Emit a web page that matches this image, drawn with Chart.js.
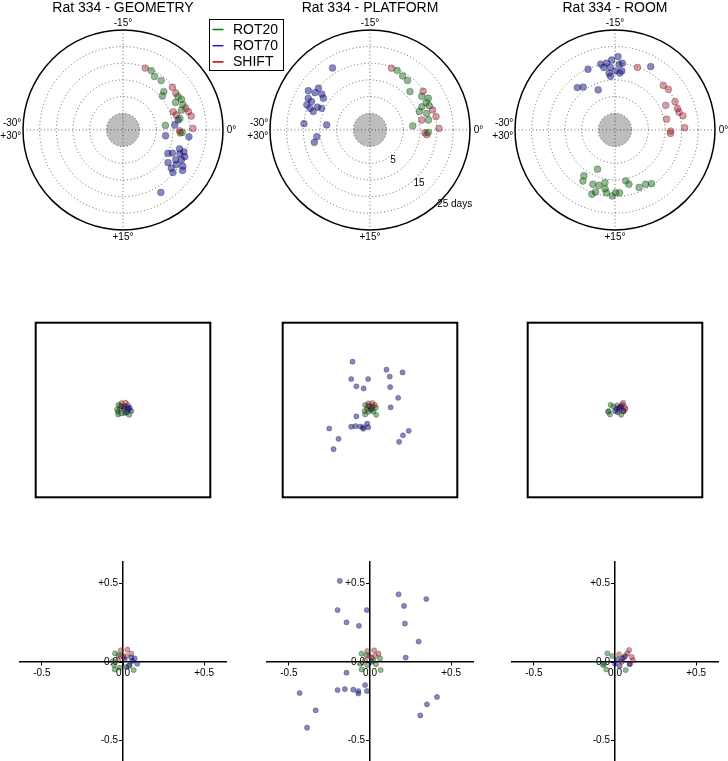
<!DOCTYPE html>
<html>
<head>
<meta charset="utf-8">
<script src="https://cdn.jsdelivr.net/npm/chart.js@4.4.1/dist/chart.umd.min.js"></script>
<style>
  body{margin:0;background:#fff;width:728px;height:761px;overflow:hidden;position:relative;}
  canvas{position:absolute;}
</style>
</head>
<body>
<script>
const series = ["ROT20", "ROT70", "SHIFT"];
const panels = ["GEOMETRY", "PLATFORM", "ROOM"];

// polar rows: [angle (deg), day]
const geomRot20 = [[-10.75,14.7],[-9.9,13.6],[-8.7,13.7],[-7.2,11.8],[-6.8,10.6],[-5.2,14.3],[-4.6,14.8],[-4.6,12.8],[-3.8,14.5],[-3.1,13.5],[-1.9,12.4],[0.4,12.8],[-1.0,7.8]];
const geomRot70 = [[-0.9,10.6],[-1.7,11.8],[1.0,14.9],[1.3,7.9],[3.1,12.9],[3.3,14.4],[3.8,13.5],[3.9,15.2],[4.2,11.4],[4.6,10.2],[4.5,14.7],[4.95,13.2],[6.0,11.7],[5.5,14.1],[5.2,16.0],[6.4,13.5],[6.75,14.7],[5.7,16.6],[9.8,16.9]];
const geomShift = [[-11.7,14.7],[-6.8,14.6],[-5.8,14.3],[-3.2,14.9],[-2.6,15.4],[-1.9,15.9],[-3.3,11.0],[-2.6,11.6],[-0.2,16.0],[0.15,12.0],[0.5,12.2]];

const platRot20 = [[-10.9,14.6],[-9.8,13.9],[-8.8,13.6],[-7.3,11.6],[-5.5,13.5],[-4.75,14.9],[-4.3,13.7],[-4.0,12.0],[-3.4,10.8],[-2.7,12.7],[-1.6,12.8],[-0.9,7.9],[0.4,12.5],[-3.7,14.2]];
const platRot70 = [[-20.2,16.7],[-24.6,16.9],[-24.3,14.9],[-23.5,14.9],[-23.9,13.0],[-24.3,11.9],[-25.5,15.8],[-25.7,14.5],[-26.4,15.4],[-26.7,14.1],[-27.0,12.9],[-26.0,10.9],[-26.1,12.2],[-29.1,14.9],[-28.9,8.1],[28.8,11.1],[27.9,12.1]];
const platShift = [[-11.8,14.6],[-6.0,14.7],[-2.95,14.7],[-1.9,15.2],[-1.8,10.8],[-0.2,15.7],[0.5,11.5],[0.8,12.1]];

const roomRot20 = [[19.0,7.9],[20.7,11.6],[20.35,13.1],[18.7,12.6],[17.7,12.3],[16.8,11.1],[16.6,12.9],[18.3,15.5],[17.9,14.5],[16.3,14.0],[15.4,14.8],[14.9,13.8],[14.3,13.9],[13.0,10.6],[12.6,11.8],[11.2,13.7],[10.1,13.7],[9.3,14.5]];
const roomRot70 = [[-14.6,17.0],[-15.45,16.0],[-16.2,15.2],[-17.05,15.2],[-16.7,14.0],[-15.7,13.8],[-14.4,14.7],[-13.95,15.1],[-13.9,12.8],[-14.9,12.7],[-16.0,12.1],[-15.8,11.1],[-14.2,12.1],[-19.0,14.9],[-10.1,16.8],[-21.95,12.0],[-21.1,11.0],[-18.8,8.0]];
const roomShift = [[-11.7,14.9],[-7.1,14.7],[-6.2,15.1],[-4.2,14.9],[-4.3,11.9],[-3.15,14.8],[-2.6,14.9],[-1.95,15.8],[-1.95,10.8],[-0.3,15.9],[0.2,11.7],[0.6,11.7]];

// offsets (middle + bottom rows): [x, y]
const geomOffRot20 = [[-0.049,0.055],[-0.027,0.044],[-0.062,0.006],[-0.055,-0.019],[-0.051,-0.047],[0.066,-0.051],[0.037,-0.025],[-0.02,-0.036]];
const geomOffRot70 = [[0.072,0.023],[0.058,0.006],[0.088,-0.011],[0.041,-0.019],[0.02,-0.032],[0.051,0.028],[0.01,0.017]];
const geomOffShift = [[-0.014,0.074],[0.027,0.078],[0.051,0.053],[-0.031,0.011],[0.004,0.032],[0.02,0.038],[-0.016,0.038]];

const platOffRot20 = [[-0.052,0.053],[-0.021,0.044],[-0.058,-0.011],[-0.052,-0.047],[0.066,-0.051],[0.062,0.023],[0.037,-0.015],[0.021,0.011],[-0.017,-0.019]];
const platOffRot70 = [[-0.186,0.515],[0.176,0.43],[0.347,0.40],[-0.20,0.33],[-0.02,0.33],[0.21,0.356],[-0.145,0.252],[-0.068,0.23],[0.215,0.244],[0.30,0.13],[0.22,0.028],[-0.145,-0.068],[-0.03,-0.146],[-0.20,-0.178],[-0.155,-0.172],[-0.103,-0.176],[-0.072,-0.184],[-0.072,-0.20],[-0.019,-0.184],[-0.434,-0.197],[-0.335,-0.307],[-0.388,-0.417],[0.31,-0.339],[0.351,-0.269],[0.413,-0.222],[0.01,0.002]];
const platOffShift = [[-0.017,0.07],[0.025,0.074],[0.052,0.053],[-0.031,0.011],[0.01,0.028],[0.031,0.038],[-0.006,0.038]];

const roomOffRot20 = [[-0.047,0.055],[-0.017,0.038],[-0.068,-0.011],[-0.054,-0.047],[0.066,-0.051],[-0.074,-0.019]];
const roomOffRot70 = [[0.014,0.017],[0.045,0.023],[0.091,-0.011],[0.029,-0.025],[0,-0.011],[0.062,0.038]];
const roomOffShift = [[0.087,0.076],[0.076,0.055],[0.103,0.032],[0.111,0.011],[0.056,0.028],[0.025,0.049],[0.091,-0.015],[0.041,0.002]];

const ringDays = [0, 5, 10, 15, 20];
const ringLabels = ["5", "15", "25 days"];
const angleLabels = ["-15°", "+15°", "0°", "-30°", "+30°"];
const offTicks = [-0.5, 0, 0.5];

const polarSets = [[geomRot20, geomRot70, geomShift], [platRot20, platRot70, platShift], [roomRot20, roomRot70, roomShift]];
const offSets = [[geomOffRot20, geomOffRot70, geomOffShift], [platOffRot20, platOffRot70, platOffShift], [roomOffRot20, roomOffRot70, roomOffShift]];

const FONT = '"Liberation Sans", Arial, sans-serif';
const fills = {ROT20:"rgba(20,110,20,0.47)", ROT70:"rgba(25,25,150,0.52)", SHIFT:"rgba(180,30,45,0.45)"};
const lines = {ROT20:"rgb(0,128,0)", ROT70:"rgb(30,30,190)", SHIFT:"rgb(191,0,0)"};
const colX = [123.3, 369.7, 615.3];

const makeCanvas = (left, top, w, h)=>{
  const c = document.createElement("canvas");
  c.width = w; c.height = h;
  c.style.left = left + "px"; c.style.top = top + "px";
  c.style.width = w + "px"; c.style.height = h + "px";
  document.body.appendChild(c);
  return c;
};

const toXY = (pts)=> pts.map(p=>{
  const a = -p[0]*6*Math.PI/180;
  const r = p[1] + 5;
  return {x: r*Math.cos(a), y: r*Math.sin(a)};
});
const toPts = (pts)=> pts.map(p=>({x:p[0], y:p[1]}));

//polar grid, disk and labels
const polarDecor = {
  id:"polarDecor",
  beforeDatasetsDraw(chart, args, opts){
    const ctx = chart.ctx;
    const xs = chart.scales.x, ys = chart.scales.y;
    const cx = xs.getPixelForValue(0), cy = ys.getPixelForValue(0);
    const u = xs.getPixelForValue(1) - cx;
    ctx.save();
    ctx.fillStyle = "#bdbdbd";
    ctx.beginPath(); ctx.arc(cx, cy, 5*u, 0, Math.PI*2); ctx.fill();
    ctx.setLineDash([1, 2.5]); ctx.lineWidth = 0.8; ctx.strokeStyle = "rgba(0,0,0,0.75)";
    ringDays.forEach(d=>{
      ctx.beginPath(); ctx.arc(cx, cy, (d+5)*u, 0, Math.PI*2); ctx.stroke();
    });
    ctx.beginPath();
    ctx.moveTo(cx-30*u, cy); ctx.lineTo(cx+30*u, cy);
    ctx.moveTo(cx, cy-30*u); ctx.lineTo(cx, cy+30*u);
    ctx.stroke();
    ctx.setLineDash([]); ctx.lineWidth = 1.5; ctx.strokeStyle = "#000";
    ctx.beginPath(); ctx.arc(cx, cy, 30*u, 0, Math.PI*2); ctx.stroke();

    ctx.font = "10px " + FONT; ctx.fillStyle = "#000"; ctx.textBaseline = "middle";
    ctx.textAlign = "center";
    ctx.fillText(angleLabels[0], cx, cy-32*u);
    ctx.fillText(angleLabels[1], cx, cy+32.1*u);
    ctx.textAlign = "left";
    ctx.fillText(angleLabels[2], cx+31.1*u, cy);
    ctx.textAlign = "right";
    ctx.fillText(angleLabels[3], cx-30.5*u, cy-2*u);
    ctx.fillText(angleLabels[4], cx-30.5*u, cy+2*u);
    if(opts.ringText){
      const pos = [[6.9,9.2],[14.7,16],[25.4,22.2]];
      ctx.textAlign = "center";
      ringLabels.forEach((t,i)=> ctx.fillText(t, cx+pos[i][0]*u, cy+pos[i][1]*u));
    }
    ctx.restore();
  }
};

const boxLegend = {
  id:"boxLegend",
  afterDraw(chart, args, opts){
    if(!opts.show) return;
    const ctx = chart.ctx;
    ctx.save();
    ctx.fillStyle = "#fff"; ctx.fillRect(209.5, 19.5, 74, 51);
    ctx.strokeStyle = "#000"; ctx.lineWidth = 1; ctx.strokeRect(209.5, 19.5, 74, 51);
    ctx.font = "14px " + FONT; ctx.textBaseline = "middle"; ctx.textAlign = "left";
    chart.data.datasets.forEach((ds, i)=>{
      const y = 29.5 + i*16.2;
      ctx.strokeStyle = lines[ds.label]; ctx.lineWidth = 1.5;
      ctx.beginPath(); ctx.moveTo(212.5, y); ctx.lineTo(223.5, y); ctx.stroke();
      ctx.fillStyle = "#000";
      ctx.fillText(ds.label, 233, y+0.5);
    });
    ctx.restore();
  }
};

const boxFrame = {
  id:"boxFrame",
  afterDraw(chart){
    const {ctx, chartArea} = chart;
    ctx.save();
    ctx.strokeStyle = "#000"; ctx.lineWidth = 2;
    ctx.strokeRect(chartArea.left, chartArea.top, chartArea.right-chartArea.left, chartArea.bottom-chartArea.top);
    ctx.restore();
  }
};

const fmt = (v)=> v > 0 ? "+" + v.toFixed(1) : v.toFixed(1);

// y tick labels sit left of the centred y axis
const yLabels = {
  id:"yLabels",
  beforeDatasetsDraw(chart){
    const ctx = chart.ctx;
    const xs = chart.scales.x, ys = chart.scales.y;
    const x0 = xs.getPixelForValue(0);
    ctx.save();
    ctx.font = "10px " + FONT; ctx.fillStyle = "#000";
    ctx.textAlign = "right"; ctx.textBaseline = "middle";
    ys.ticks.forEach(t=> ctx.fillText(fmt(t.value), x0 - 5, ys.getPixelForValue(t.value)));
    ctx.restore();
  }
};

const makeSets = (sets, conv, radius)=> series.map((s, i)=>({
  label: s,
  data: conv(sets[i]),
  backgroundColor: fills[s],
  borderColor: "rgba(0,0,0,0.35)",
  borderWidth: 0.7,
  pointRadius: radius
}));

//top row: polar plots
panels.forEach((name, k)=>{
  const left = Math.round(colX[k] - 123);
  const w = k == 0 ? 290 : 246;
  const cnv = makeCanvas(left, 0, w, 250);
  new Chart(cnv, {
    type: "scatter",
    data: {datasets: makeSets(polarSets[k], toXY, 3.4)},
    options: {
      responsive: false, animation: false,
      layout: {padding: {left: 23, right: w - 223, top: 0, bottom: 20}},
      scales: {
        x: {display: false, min: -30, max: 30},
        y: {display: false, min: -30, max: 30}
      },
      plugins: {
        legend: {display: false}, tooltip: {enabled: false},
        title: {display: true, text: "Rat 334 - " + name, color: "#000",
          font: {family: FONT, size: 14, weight: "normal"}, padding: {top: 0, bottom: 13}},
        polarDecor: {ringText: k == 1},
        boxLegend: {show: k == 0}
      }
    },
    plugins: [polarDecor, boxLegend]
  });
});

//middle row: boxes
panels.forEach((name, k)=>{
  const cnv = makeCanvas(Math.round(colX[k] - 92), 318, 184, 184);
  new Chart(cnv, {
    type: "scatter",
    data: {datasets: makeSets(offSets[k], toPts, 2.6)},
    options: {
      responsive: false, animation: false,
      layout: {padding: 4},
      scales: {
        x: {display: false, min: -0.93, max: 0.93},
        y: {display: false, min: -0.93, max: 0.93}
      },
      plugins: {legend: {display: false}, tooltip: {enabled: false}}
    },
    plugins: [boxFrame]
  });
});

//bottom row: centred axes
const axisOpts = (pos, showLabels)=>({
  type: "linear", min: -0.635, max: 0.635, position: pos,
  border: {display: true, color: "#000", width: 1.5},
  grid: {drawOnChartArea: false, drawTicks: true, tickLength: 3, color: "#000", tickColor: "#000"},
  ticks: {display: showLabels, font: {family: FONT, size: 10}, color: "#000", padding: 2, callback: fmt},
  afterBuildTicks: (ax)=>{ ax.ticks = offTicks.map(v=>({value: v})); }
});
panels.forEach((name, k)=>{
  const cnv = makeCanvas(Math.round(colX[k] - 123), 550, 246, 232);
  new Chart(cnv, {
    type: "scatter",
    data: {datasets: makeSets(offSets[k], toPts, 2.6)},
    options: {
      responsive: false, animation: false,
      layout: {padding: {left: 20, right: 20, top: 12, bottom: 20}},
      scales: {x: axisOpts({y: 0}, true), y: axisOpts({x: 0}, false)},
      plugins: {legend: {display: false}, tooltip: {enabled: false}}
    },
    plugins: [yLabels]
  });
});
</script>
</body>
</html>
